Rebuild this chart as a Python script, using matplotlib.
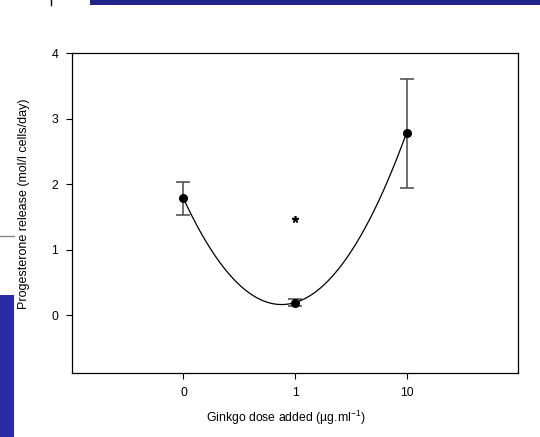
import numpy as np
import matplotlib
matplotlib.use('Agg')
import matplotlib.pyplot as plt
from matplotlib.patches import Rectangle
from matplotlib.lines import Line2D

plt.rcParams['font.family'] = ['Liberation Sans', 'DejaVu Sans']
plt.rcParams['mathtext.fontset'] = 'custom'
plt.rcParams['mathtext.rm'] = 'Liberation Sans'

# Progesterone release per Ginkgo dose
doses = ['0', '1', '10']
release = [1.78, 0.19, 2.78]
err_low = [0.26, 0.05, 0.84]
err_high = [0.25, 0.05, 0.82]
star_dose = 1
star_value = 1.47

fig = plt.figure(figsize=(5.4, 4.37), dpi=100)
ax = fig.add_axes([0.1333, 0.1465, 0.826, 0.732])

xpos = np.arange(len(doses))

# quadratic fit through the means
coef = np.polyfit(xpos, release, 2)
xs = np.linspace(xpos[0], xpos[-1], 200)
ax.plot(xs, np.polyval(coef, xs), color='black', lw=0.9, zorder=2)

ax.errorbar(xpos, release, yerr=[err_low, err_high], fmt='none',
            ecolor='#555555', elinewidth=1.2, capsize=5, capthick=1.2, zorder=1)
ax.plot(xpos, release, 'o', color='black', ms=5.5, zorder=3)

ax.plot(star_dose, star_value, marker=(5, 2, 0), color='black', ms=5,
        mew=1.2, ls='none')

ax.set_xlim(-1, 3)
ax.set_ylim(-0.885, 4)
ax.set_xticks(xpos)
ax.set_xticklabels(doses)
ax.set_yticks([0, 1, 2, 3, 4])
ax.tick_params(direction='out', length=4, width=0.8, labelsize=8.8, pad=6,
               top=False, right=False)
for s in ax.spines.values():
    s.set_linewidth(0.9)

ax.set_xlabel('Ginkgo dose added (\u00b5g.ml$^{-1}$)', fontsize=8.8)
ax.xaxis.set_label_coords(0.48, -0.112)
ax.set_ylabel('Progesterone release (mol/l cells/day)', fontsize=9)
ax.yaxis.set_label_coords(-0.095, 0.53)

# page decorations around the figure
fig.add_artist(Rectangle((90 / 540, 1 - 5 / 437), 450 / 540, 5 / 437,
                         transform=fig.transFigure, color='#23238c', lw=0))
fig.add_artist(Rectangle((0, 0), 14 / 540, 142 / 437,
                         transform=fig.transFigure, color='#2b2ba6', lw=0))
fig.add_artist(Line2D([51 / 540, 51 / 540], [1, 1 - 5 / 437],
                      transform=fig.transFigure, color='black', lw=1))
fig.add_artist(Line2D([0, 14 / 540], [1 - 236 / 437, 1 - 236 / 437],
                      transform=fig.transFigure, color='#888888', lw=1))

fig.savefig('out.png', dpi=100)
